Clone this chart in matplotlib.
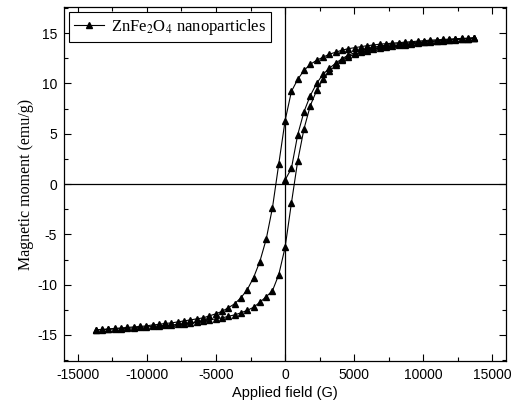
import matplotlib
matplotlib.use("Agg")
import matplotlib.pyplot as plt
from matplotlib.ticker import MultipleLocator

# applied field (G), common grid for all branches
field = [-13700, -13243, -12787, -12330, -11873, -11417, -10960, -10503, -10047, -9590,
         -9133, -8677, -8220, -7763, -7307, -6850, -6393, -5937, -5480, -5023,
         -4567, -4110, -3653, -3197, -2740, -2283, -1827, -1370, -913, -457,
         0, 457, 913, 1370, 1827, 2283, 2740, 3197, 3653, 4110,
         4567, 5023, 5480, 5937, 6393, 6850, 7307, 7763, 8220, 8677,
         9133, 9590, 10047, 10503, 10960, 11417, 11873, 12330, 12787, 13243, 13700]

# descending branch (upper), listed along the field grid
m_down = [-14.5, -14.45, -14.4, -14.35, -14.3, -14.25, -14.2, -14.15, -14.1, -14.0,
          -13.95, -13.85, -13.8, -13.7, -13.6, -13.5, -13.4, -13.3, -13.1, -12.9,
          -12.65, -12.3, -11.9, -11.3, -10.5, -9.3, -7.7, -5.5, -2.35, 2.0,
          6.3, 9.2, 10.4, 11.3, 11.9, 12.3, 12.6, 12.9, 13.1, 13.3,
          13.45, 13.55, 13.65, 13.75, 13.82, 13.9, 13.95, 14.0, 14.05, 14.1,
          14.15, 14.2, 14.25, 14.3, 14.33, 14.37, 14.4, 14.44, 14.47, 14.5, 14.55]

# ascending branch (lower)
m_up = [-14.5, -14.47, -14.44, -14.4, -14.37, -14.33, -14.3, -14.25, -14.2, -14.15,
        -14.1, -14.05, -14.0, -13.95, -13.9, -13.82, -13.75, -13.6, -13.5, -13.4,
        -13.3, -13.15, -13.0, -12.8, -12.55, -12.25, -11.75, -11.2, -10.6, -9.0,
        -6.3, -1.9, 2.3, 5.5, 7.8, 9.3, 10.4, 11.2, 11.8, 12.3,
        12.65, 12.9, 13.1, 13.25, 13.4, 13.5, 13.6, 13.7, 13.8, 13.85,
        13.95, 14.0, 14.1, 14.15, 14.2, 14.25, 14.3, 14.35, 14.4, 14.45, 14.5]

# initial magnetization curve (field >= 0)
field_init = field[30:]
m_init = [0.4, 1.55, 4.9, 7.2, 8.8, 10.0, 10.9, 11.5, 12.0, 12.45,
          12.8, 13.05, 13.3, 13.45, 13.6, 13.7, 13.8, 13.88, 13.95, 14.0,
          14.05, 14.1, 14.15, 14.2, 14.25, 14.3, 14.35, 14.4, 14.43, 14.46, 14.5]

serif = "Liberation Serif"
sans = "Liberation Sans"
plt.rcParams["mathtext.fontset"] = "stix"
plt.rcParams["axes.unicode_minus"] = False

fig = plt.figure(figsize=(5.16, 4.09), dpi=100)
ax = fig.add_axes([0.124, 0.117, 0.857, 0.866])

ax.axhline(0, color="black", lw=0.9, zorder=1)
ax.axvline(0, color="black", lw=0.9, zorder=1)

style = dict(color="black", lw=0.8, marker="^", markersize=5)
ax.plot(field_init, m_init, **style)
ax.plot(field[::-1], m_down[::-1], label="ZnFe$_2$O$_4$ nanoparticles", **style)
ax.plot(field, m_up, **style)

ax.set_xlim(-16000, 16000)
ax.set_ylim(-17.6, 17.6)
ax.xaxis.set_major_locator(MultipleLocator(5000))
ax.xaxis.set_minor_locator(MultipleLocator(2500))
ax.yaxis.set_major_locator(MultipleLocator(5))
ax.yaxis.set_minor_locator(MultipleLocator(2.5))
ax.tick_params(which="both", direction="in", top=True, right=True, width=0.8)
ax.tick_params(which="major", length=5, labelsize=10, pad=5)
ax.tick_params(which="minor", length=3)
for lab in ax.get_xticklabels() + ax.get_yticklabels():
    lab.set_family(sans)
for s in ax.spines.values():
    s.set_linewidth(0.9)

ax.set_xlabel("Applied field (G)", family=sans, fontsize=10.5, labelpad=3)
ax.set_ylabel("Magnetic moment (emu/g)", family=serif, fontsize=11.5, labelpad=2)

leg = ax.legend(loc="upper left", prop={"family": serif, "size": 12},
                fancybox=False, edgecolor="black", framealpha=1,
                borderaxespad=0.3, handlelength=1.8, handletextpad=0.4,
                borderpad=0.3)
leg.get_frame().set_linewidth(0.8)

fig.savefig("out.png", dpi=100)
